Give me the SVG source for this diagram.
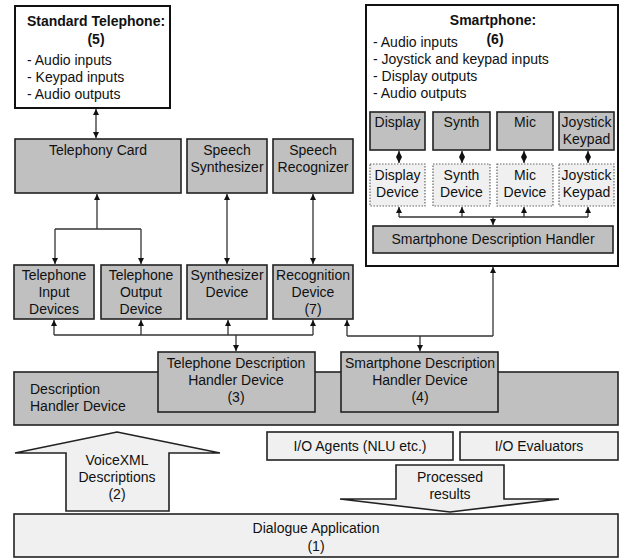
<svg xmlns="http://www.w3.org/2000/svg" width="620" height="560" viewBox="0 0 620 560">
<defs>
<marker id="ah" viewBox="0 0 10 10" refX="10" refY="5" markerWidth="6" markerHeight="7" markerUnits="userSpaceOnUse" orient="auto-start-reverse">
<path d="M0,0 L10,5 L0,10 Z" fill="#111"/>
</marker>
</defs>
<style>
text{font-family:"Liberation Sans",Arial,sans-serif;font-size:14px;fill:#111}
.c{text-anchor:middle}
.b{font-weight:bold}
.g{fill:#c0c0c0;stroke:#222;stroke-width:1.6}
.w{fill:#fff;stroke:#111;stroke-width:2}
.l{fill:#f0f0f0;stroke:#222;stroke-width:1.6}
.d{fill:#f0f0f0;stroke:#666;stroke-width:1.2;stroke-dasharray:1.5 1.5}
.cn{fill:none;stroke:#333;stroke-width:1.3}
.a2{marker-start:url(#ah);marker-end:url(#ah)}
.a1{marker-end:url(#ah)}
</style>
<rect width="620" height="560" fill="#fff"/>

<g id="standard-telephone">
<rect class="w" x="15" y="6" width="155" height="102"/>
<text class="c b" x="96" y="26">Standard Telephone:</text>
<text class="c b" x="96" y="44">(5)</text>
<text x="27" y="65">- Audio inputs</text>
<text x="27" y="82">- Keypad inputs</text>
<text x="27" y="99">- Audio outputs</text>
</g>

<g id="smartphone">
<rect class="w" x="366" y="5" width="252" height="261"/>
<text class="c b" x="493" y="25">Smartphone:</text>
<text class="c b" x="495" y="44">(6)</text>
<text x="373" y="47">- Audio inputs</text>
<text x="373" y="64">- Joystick and keypad inputs</text>
<text x="373" y="81">- Display outputs</text>
<text x="373" y="98">- Audio outputs</text>
</g>
<g id="sp-display"><rect class="g" x="370" y="112" width="55" height="38"/><text class="c" x="397.5" y="127">Display</text></g>
<g id="sp-synth"><rect class="g" x="433" y="112" width="57" height="38"/><text class="c" x="461.5" y="127">Synth</text></g>
<g id="sp-mic"><rect class="g" x="497" y="112" width="56" height="38"/><text class="c" x="525" y="127">Mic</text></g>
<g id="sp-joystick"><rect class="g" x="559" y="112" width="55" height="38"/><text class="c" x="586.5" y="127">Joystick</text><text class="c" x="586.5" y="144">Keypad</text></g>
<g id="sp-display-device"><rect class="d" x="370" y="164" width="55" height="42"/><text class="c" x="397.5" y="180">Display</text><text class="c" x="397.5" y="197">Device</text></g>
<g id="sp-synth-device"><rect class="d" x="433" y="164" width="57" height="42"/><text class="c" x="461.5" y="180">Synth</text><text class="c" x="461.5" y="197">Device</text></g>
<g id="sp-mic-device"><rect class="d" x="497" y="164" width="56" height="42"/><text class="c" x="525" y="180">Mic</text><text class="c" x="525" y="197">Device</text></g>
<g id="sp-joystick-device"><rect class="d" x="559" y="164" width="55" height="42"/><text class="c" x="586.5" y="180">Joystick</text><text class="c" x="586.5" y="197">Keypad</text></g>
<g id="sp-description-handler"><rect class="g" x="373" y="226" width="240" height="27"/><text class="c" x="493" y="244">Smartphone Description Handler</text></g>

<g id="telephony-card"><rect class="g" x="15" y="139" width="166" height="54"/><text class="c" x="98" y="155">Telephony Card</text></g>
<g id="speech-synthesizer"><rect class="g" x="187" y="139" width="80" height="54"/><text class="c" x="227" y="155">Speech</text><text class="c" x="227" y="172">Synthesizer</text></g>
<g id="speech-recognizer"><rect class="g" x="273" y="139" width="80" height="54"/><text class="c" x="313" y="155">Speech</text><text class="c" x="313" y="172">Recognizer</text></g>

<g id="telephone-input-devices"><rect class="g" x="14" y="265" width="80" height="54"/><text class="c" x="54" y="280">Telephone</text><text class="c" x="54" y="297">Input</text><text class="c" x="54" y="314">Devices</text></g>
<g id="telephone-output-device"><rect class="g" x="101" y="265" width="80" height="54"/><text class="c" x="141" y="280">Telephone</text><text class="c" x="141" y="297">Output</text><text class="c" x="141" y="314">Device</text></g>
<g id="synthesizer-device"><rect class="g" x="187" y="265" width="80" height="54"/><text class="c" x="227" y="280">Synthesizer</text><text class="c" x="227" y="297">Device</text></g>
<g id="recognition-device"><rect class="g" x="273" y="265" width="80" height="54"/><text class="c" x="313" y="280">Recognition</text><text class="c" x="313" y="297">Device</text><text class="c" x="313" y="314">(7)</text></g>

<g id="description-handler-device"><rect class="g" x="14" y="372" width="604" height="53"/><text x="30" y="394">Description</text><text x="30" y="411">Handler Device</text></g>
<g id="telephone-description-handler-device"><rect class="g" x="158" y="352" width="157" height="60"/><text class="c" x="236" y="368">Telephone Description</text><text class="c" x="236" y="385">Handler Device</text><text class="c" x="236" y="402">(3)</text></g>
<g id="smartphone-description-handler-device"><rect class="g" x="341" y="352" width="157" height="60"/><text class="c" x="420" y="368">Smartphone Description</text><text class="c" x="420" y="385">Handler Device</text><text class="c" x="420" y="402">(4)</text></g>

<g id="voicexml-descriptions"><path class="l" d="M117,432 L220,453 L169,453 L169,511 L66,511 L66,453 L15,453 Z"/><text class="c" x="117" y="465">VoiceXML</text><text class="c" x="117" y="482">Descriptions</text><text class="c" x="117" y="499">(2)</text></g>
<g id="io-agents"><rect class="l" x="267" y="432" width="186" height="28"/><text class="c" x="360" y="451">I/O Agents (NLU etc.)</text></g>
<g id="io-evaluators"><rect class="l" x="460" y="432" width="158" height="28"/><text class="c" x="539" y="451">I/O Evaluators</text></g>
<g id="processed-results"><path class="l" d="M396,465 L504,465 L504,499 L559,499 L450,512 L340,499 L396,499 Z"/><text class="c" x="450" y="482">Processed</text><text class="c" x="450" y="499">results</text></g>
<g id="dialogue-application"><rect class="l" x="14" y="514" width="604" height="43"/><text class="c" x="316" y="533">Dialogue Application</text><text class="c" x="316" y="551">(1)</text></g>

<g id="connectors">
<path class="cn a2" d="M96,109 L96,138"/>
<path class="cn a1" d="M97,229 L97,194"/>
<path class="cn" d="M55,229 L141,229"/>
<path class="cn a1" d="M55,229 L55,264"/>
<path class="cn a1" d="M141,229 L141,264"/>
<path class="cn a2" d="M227,194 L227,264"/>
<path class="cn a2" d="M313,194 L313,264"/>
<path class="cn" d="M54,335 L313,335"/>
<path class="cn a1" d="M54,335 L54,320"/>
<path class="cn a1" d="M141,335 L141,320"/>
<path class="cn a1" d="M228,335 L228,320"/>
<path class="cn a1" d="M313,335 L313,320"/>
<path class="cn a1" d="M236,335 L236,351"/>
<path class="cn" d="M347,336 L493,336"/>
<path class="cn a1" d="M347,336 L347,320"/>
<path class="cn a1" d="M493,336 L493,267"/>
<path class="cn a1" d="M420,336 L420,351"/>
<path class="cn a2" d="M399,151 L399,163"/>
<path class="cn a2" d="M462,151 L462,163"/>
<path class="cn a2" d="M524,151 L524,163"/>
<path class="cn a2" d="M588,151 L588,163"/>
<path class="cn" d="M399,217 L588,217"/>
<path class="cn a1" d="M399,217 L399,207"/>
<path class="cn a1" d="M462,217 L462,207"/>
<path class="cn a1" d="M524,217 L524,207"/>
<path class="cn a1" d="M588,217 L588,207"/>
<path class="cn a1" d="M493,217 L493,225"/>
</g>
</svg>
